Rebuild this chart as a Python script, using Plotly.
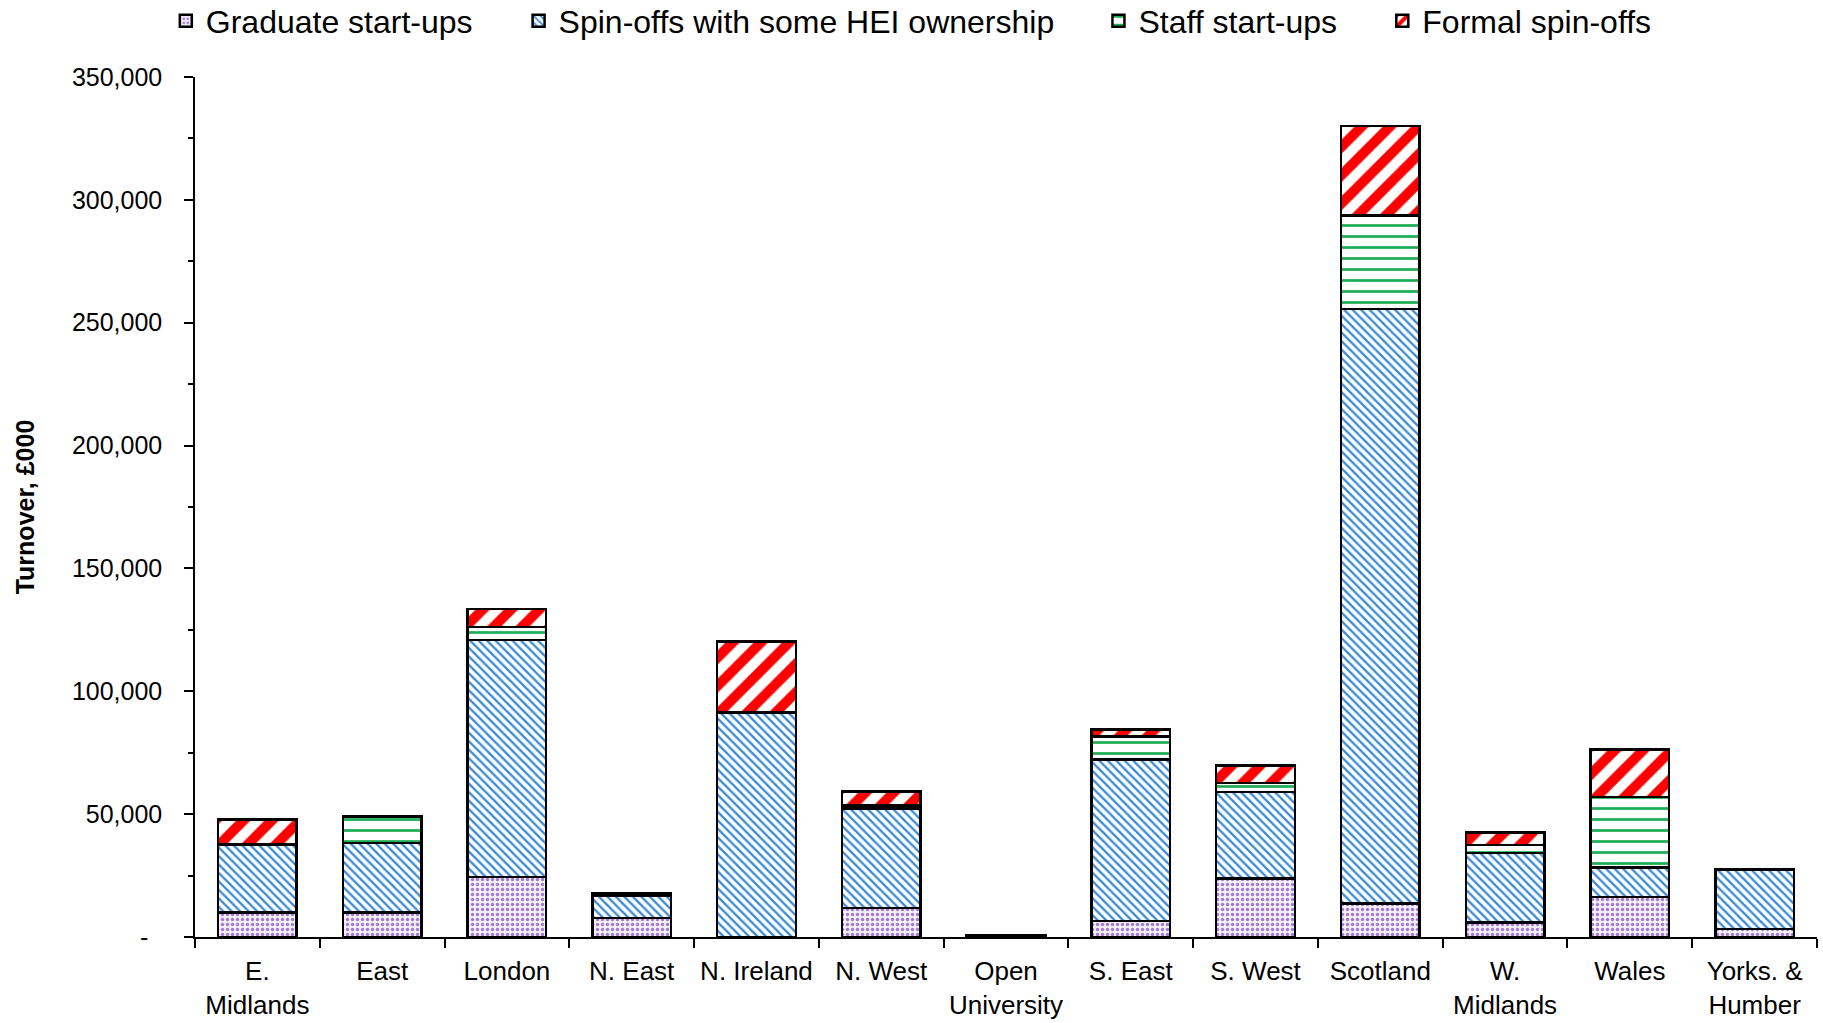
import plotly.graph_objects as go

regions = ["E.<br>Midlands", "East", "London", "N. East", "N. Ireland", "N. West",
           "Open<br>University", "S. East", "S. West", "Scotland", "W.<br>Midlands",
           "Wales", "Yorks. &<br>Humber"]

# Turnover, £000
graduate_startups = [10000, 10000, 24500, 7800, 0, 11800, 300, 6500, 23800, 13600, 5900, 16300, 3300]
spinoffs_some_hei = [27700, 28300, 96400, 8800, 91300, 40600, 300, 65700, 35200, 242000, 28300, 11900, 24200]
staff_startups = [200, 10500, 5200, 500, 0, 1200, 0, 9300, 3700, 38100, 3300, 28700, 0]
formal_spinoffs = [10000, 300, 7400, 600, 29000, 5600, 0, 2900, 7200, 36400, 5000, 19400, 0]

series_names = ["Graduate start-ups", "Spin-offs with some HEI ownership",
                "Staff start-ups", "Formal spin-offs"]

ytick_vals = [0, 50000, 100000, 150000, 200000, 250000, 300000, 350000]
ytick_text = ["-\u00a0\u00a0", "50,000", "100,000", "150,000", "200,000",
              "250,000", "300,000", "350,000"]

FONT = "Liberation Sans, Arial, sans-serif"

patterns = [
    dict(shape=".", fgcolor="#A07AD4", bgcolor="#F5EFFA", size=5, solidity=0.35, fgopacity=1, fillmode="overlay"),
    dict(shape="\\", fgcolor="#3A8AD6", bgcolor="#FFFFFF", size=6, solidity=0.38, fgopacity=1, fillmode="overlay"),
    dict(shape="-", fgcolor="#1DAE56", bgcolor="#FFFFFF", size=11, solidity=0.25, fgopacity=1, fillmode="overlay"),
    dict(shape="/", fgcolor="#FF0000", bgcolor="#FFFFFF", size=20, solidity=0.5, fgopacity=1, fillmode="overlay"),
]
data = [graduate_startups, spinoffs_some_hei, staff_startups, formal_spinoffs]
legend_ids = ["legend", "legend2", "legend3", "legend4"]

fig = go.Figure()
for name, vals, pat, lg in zip(series_names, data, patterns, legend_ids):
    fig.add_trace(go.Bar(
        x=regions, y=vals, name=name, legend=lg,
        marker=dict(color=pat["bgcolor"], pattern=pat, line=dict(color="#000000", width=2.5)),
    ))

T = 77
PH = 1023 - T - 86
legend_common = dict(orientation="h", yanchor="middle", y=1 + (T - 21) / PH, xanchor="left",
                     font=dict(family=FONT, size=32, color="#000000"),
                     bgcolor="rgba(0,0,0,0)", itemwidth=30, tracegroupgap=0)
legend_x = [-0.018, 0.1995, 0.557, 0.732]

fig.update_layout(
    width=1823, height=1023,
    margin=dict(l=195, r=6, t=T, b=86, autoexpand=False),
    paper_bgcolor="#FFFFFF", plot_bgcolor="#FFFFFF",
    barmode="stack", bargap=0.37,
    font=dict(family=FONT, color="#000000"),
    showlegend=True,
    legend=dict(x=legend_x[0], **legend_common),
    legend2=dict(x=legend_x[1], **legend_common),
    legend3=dict(x=legend_x[2], **legend_common),
    legend4=dict(x=legend_x[3], **legend_common),
)
fig.update_xaxes(
    showline=True, linecolor="#000000", linewidth=1.5,
    ticks="outside", tickson="boundaries", ticklen=9, tickwidth=1.5, tickcolor="#000000",
    tickfont=dict(family=FONT, size=26, color="#000000"),
    ticklabelstandoff=10, automargin=False,
    showgrid=False, zeroline=False, range=[-0.5, 12.5],
)
fig.update_yaxes(
    range=[0, 350000], tickvals=ytick_vals, ticktext=ytick_text,
    showline=True, linecolor="#000000", linewidth=1.5,
    ticks="outside", ticklen=9, tickwidth=1.5, tickcolor="#000000",
    minor=dict(dtick=25000, ticks="outside", ticklen=5, tickwidth=1.5, tickcolor="#000000", showgrid=False),
    tickfont=dict(family=FONT, size=25, color="#000000"),
    ticklabelstandoff=17, automargin=False,
    showgrid=False, zeroline=False,
    title=dict(text="<b>Turnover, £000</b>", font=dict(family=FONT, size=25, color="#000000"), standoff=30),
)

fig.write_html("out.html", config={"displayModeBar": False},
               post_script="document.body.style.margin='0';document.body.style.overflow='hidden';")
